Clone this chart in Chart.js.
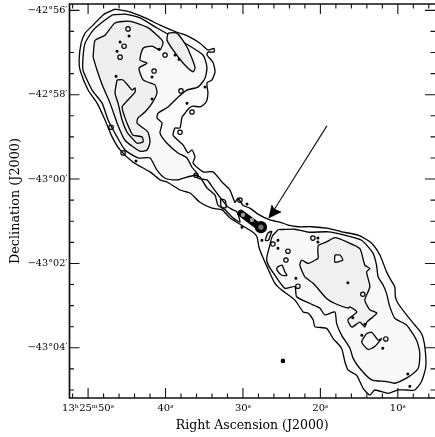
<!DOCTYPE html>
<html>
<head>
<meta charset="utf-8">
<style>
  html, body { margin: 0; padding: 0; background: #fff; }
  #wrap { width: 435px; height: 437px; }
</style>
<script src="https://cdn.jsdelivr.net/npm/chart.js@4/dist/chart.umd.min.js"></script>
</head>
<body>
<div id="wrap"><canvas id="map" width="435" height="437"></canvas></div>
<script>
// x = RA seconds past 13h25m, y = arcmin from Dec -43 00
const outerContour = [[46.52,4.03],[44.97,3.98],[43.55,3.89],[42.26,3.79],[40.71,3.65],[38.52,3.48],[37.10,3.39],[35.55,3.22],[34.52,3.06],[33.74,3.10],[33.74,3.01],[34.52,3.01],[34.65,2.94],[33.87,2.77],[33.61,2.54],[34.00,2.35],[34.65,2.28],[34.52,2.04],[34.77,1.82],[35.55,1.71],[36.45,1.73],[36.97,1.68],[37.48,1.56],[37.87,1.47],[38.13,1.21],[38.77,1.21],[39.03,1.04],[38.39,0.92],[37.74,0.81],[37.10,0.62],[36.58,0.69],[36.19,0.52],[36.45,0.38],[35.16,0.17],[33.87,0.17],[32.71,-0.07],[31.68,-0.26],[31.03,-0.55],[30.65,-0.45],[30.00,-0.62],[29.10,-0.69],[28.06,-0.83],[26.52,-0.97],[25.23,-1.02],[24.16,-1.09],[22.87,-1.13],[21.14,-1.13],[18.99,-1.17],[17.27,-1.25],[15.12,-1.33],[13.39,-1.52],[12.32,-1.80],[11.46,-2.20],[11.03,-2.35],[10.39,-2.56],[10.32,-2.79],[9.96,-2.95],[8.88,-3.22],[7.81,-3.46],[6.94,-3.66],[6.52,-3.97],[6.39,-4.45],[6.94,-4.80],[7.81,-5.00],[8.88,-5.00],[9.96,-5.00],[11.25,-5.08],[12.97,-5.00],[13.61,-5.12],[14.48,-4.96],[15.33,-4.65],[16.41,-4.53],[16.84,-4.33],[17.27,-4.01],[18.35,-3.78],[19.20,-3.54],[20.71,-3.50],[20.93,-3.34],[21.57,-3.18],[22.22,-3.15],[23.29,-2.87],[25.00,-2.63],[25.87,-2.47],[26.52,-2.23],[27.38,-1.88],[27.94,-1.61],[28.19,-1.37],[28.71,-1.26],[31.29,-0.97],[31.68,-0.92],[32.71,-0.73],[34.00,-0.69],[35.55,-0.55],[36.84,-0.33],[38.13,-0.26],[39.81,-0.07],[40.71,-0.02],[42.00,0.17],[44.19,0.40],[45.87,0.69],[46.90,1.00],[47.81,1.40],[48.84,1.80],[50.00,2.11],[51.03,2.58],[51.16,2.82],[50.90,3.22],[50.39,3.46],[49.35,3.65],[48.06,3.89]];
const northMiddle = [[46.90,3.89],[45.23,3.91],[43.29,3.82],[41.10,3.58],[39.42,3.41],[37.74,3.25],[35.16,2.94],[34.65,2.65],[34.90,2.39],[35.81,2.18],[37.23,2.11],[38.39,1.94],[39.68,1.71],[40.97,1.56],[41.10,1.45],[40.45,1.33],[40.71,1.09],[39.81,0.85],[38.39,0.62],[37.23,0.50],[36.58,0.28],[35.94,0.14],[35.81,0.02],[34.65,-0.02],[33.87,-0.21],[32.97,-0.43],[31.94,-0.66],[31.29,-0.73],[30.77,-0.78],[30.39,-1.02],[31.29,-0.92],[32.32,-0.73],[33.23,-0.62],[33.61,-0.38],[34.65,-0.21],[35.55,0.05],[36.19,0.09],[37.74,0.02],[38.52,-0.02],[40.06,0.02],[41.10,0.21],[42.00,0.50],[43.55,0.50],[45.23,0.69],[46.26,1.00],[47.42,1.40],[48.19,1.80],[49.48,2.11],[50.65,2.58],[50.65,2.89],[50.39,3.22],[49.35,3.53],[48.19,3.72]];
const northInner = [[49.35,2.89],[49.10,3.29],[47.81,3.41],[46.52,3.70],[44.58,3.74],[42.39,3.60],[41.10,3.41],[40.32,3.25],[40.71,3.06],[41.74,3.15],[42.90,3.10],[43.29,2.82],[42.39,2.75],[43.42,2.63],[42.90,2.35],[42.00,2.28],[41.35,2.23],[41.10,2.04],[41.74,1.80],[42.65,1.59],[43.55,1.45],[43.68,1.33],[43.03,1.23],[42.26,1.11],[42.00,0.88],[42.39,0.69],[43.29,0.66],[45.23,0.92],[46.26,1.33],[47.16,1.80],[48.06,2.18],[48.84,2.58]];
const northRidge = [[39.68,3.46],[38.52,3.46],[37.23,3.13],[36.19,2.65],[36.45,2.54],[37.74,2.75],[39.03,3.06],[39.81,3.29]];
const northCore = [[46.26,2.35],[45.48,2.35],[44.32,2.11],[43.94,2.16],[43.94,2.06],[45.23,1.80],[45.61,1.71],[45.23,1.45],[44.58,1.16],[44.19,1.04],[43.03,1.00],[42.90,0.88],[43.68,0.85],[44.32,0.97],[44.97,1.11],[45.61,1.40],[46.13,1.80],[46.52,2.04]];
const southMiddle = [[25.45,-1.20],[23.29,-1.19],[21.57,-1.26],[18.99,-1.25],[16.84,-1.33],[14.68,-1.45],[13.19,-1.76],[12.75,-2.04],[12.54,-2.32],[11.90,-2.51],[11.46,-2.71],[11.25,-2.87],[11.03,-3.03],[10.39,-3.30],[8.88,-3.46],[7.58,-3.82],[7.16,-4.13],[7.38,-4.49],[8.88,-4.72],[10.39,-4.84],[11.46,-4.80],[13.39,-4.76],[14.90,-4.49],[15.77,-4.25],[16.19,-4.01],[17.27,-3.70],[17.91,-3.42],[18.13,-3.15],[19.42,-3.22],[20.06,-3.06],[21.35,-2.95],[23.07,-2.79],[23.29,-2.55],[24.58,-2.59],[25.87,-2.28],[26.73,-2.04],[26.94,-1.88],[26.52,-1.56],[26.20,-1.35]];
const southInner = [[20.28,-1.88],[20.28,-1.58],[19.20,-1.49],[18.13,-1.39],[16.58,-1.49],[14.90,-1.65],[14.26,-2.04],[13.61,-2.12],[14.04,-2.20],[13.61,-2.55],[14.26,-2.87],[13.61,-3.10],[12.71,-3.18],[14.00,-3.39],[14.26,-3.51],[14.90,-3.39],[15.94,-3.51],[16.45,-3.34],[15.29,-3.15],[16.19,-3.03],[16.41,-3.06],[18.13,-2.95],[19.20,-2.83],[20.93,-2.47],[22.00,-2.32],[22.65,-2.04],[22.42,-1.92],[21.57,-2.00]];
const southPeak = [[18.13,-1.80],[18.13,-1.97],[17.10,-1.92],[17.48,-1.80]];
const southKnot = [[14.04,-3.66],[13.39,-3.63],[12.97,-3.72],[12.54,-3.82],[12.10,-3.78],[12.97,-3.97],[13.84,-4.04],[14.68,-3.86]];
const southLump = [[25.61,-2.09],[24.97,-2.04],[24.58,-2.20],[24.32,-2.28],[24.97,-2.28],[25.61,-2.16]];
const sliver = [[26.26,-1.23],[26.77,-1.28],[27.10,-1.45],[26.71,-1.45]];
const jetOval = [[32.90,-0.47],[32.30,-0.50],[32.20,-0.68],[32.80,-0.66]];
const rings = [[44.84,3.56],[45.35,3.15],[45.87,2.89],[41.48,2.56],[40.06,2.94],[38.00,2.09],[36.58,1.59],[38.13,1.11],[47.03,1.23],[45.48,0.62],[36.06,0.09],[30.39,-0.50],[26.13,-1.54],[24.19,-1.71],[24.45,-1.92],[22.90,-2.54],[20.97,-1.40],[11.55,-3.79],[14.52,-2.73]];
const dots = [[44.71,3.39],[45.87,3.25],[46.26,3.03],[46.39,2.44],[41.74,2.42],[41.74,1.90],[40.84,3.08],[38.77,2.94],[38.26,2.84],[34.90,2.18],[37.23,1.80],[43.81,0.43],[29.48,-0.59],[30.13,-1.14],[25.48,-1.45],[25.48,-1.64],[23.16,-2.35],[20.32,-1.40],[20.32,-1.49],[16.45,-2.46],[11.94,-4.01],[14.65,-3.70],[8.71,-4.62],[8.45,-4.91],[15.81,-3.29],[14.26,-3.44],[27.55,-1.45]];
const isolatedSource = [[24.84,-4.31]];
const jetLine = [[30.26,-0.81],[28.06,-1.11]];
const jetKnots = [[30.00,-0.85],[28.84,-0.97]];
const radioCore = [[27.68,-1.14]];
const arrowShaft = [[19.16,1.26],[26.26,-0.81]];
const arrowHead = [[26.65,-0.92],[26.26,-0.62],[26.00,-0.71],[25.10,-0.78]];

const raTicks = {50: "13ʰ25ᵐ50ˢ", 40: "40ˢ", 30: "30ˢ", 20: "20ˢ", 10: "10ˢ"};
const decTicks = {4: "−42°56′", 2: "−42°58′", 0: "−43°00′", "-2": "−43°02′", "-4": "−43°04′"};

const FONT = "'DejaVu Serif', 'Liberation Serif', serif";

function pts(list, close) {
  const out = list.map(p => ({x: p[0], y: p[1]}));
  if (close) out.push({x: list[0][0], y: list[0][1]});
  return out;
}

function contour(list, fillColor, width) {
  return {
    data: pts(list, true),
    showLine: true,
    borderColor: "#000",
    borderWidth: width || 1.3,
    tension: 0.2,
    pointRadius: 0,
    fill: fillColor ? "shape" : false,
    backgroundColor: fillColor || "transparent"
  };
}

function marks(list, radius, bg, border) {
  return {
    data: pts(list),
    showLine: false,
    pointRadius: radius,
    pointBackgroundColor: bg,
    pointBorderColor: border,
    pointBorderWidth: 1.2
  };
}

// chart.js pads the area for tick labels, the frame has to reach the page edge
function noPadding(scale) {
  scale.paddingTop = 0;
  scale.paddingBottom = 0;
  scale.paddingLeft = 0;
  scale.paddingRight = 0;
}

// ticks point inwards on all four sides, longer on the labelled ones
const frameTicks = {
  id: "frameTicks",
  afterDatasetsDraw(chart) {
    const {ctx, chartArea: a, scales} = chart;
    ctx.save();
    ctx.strokeStyle = "#111";
    ctx.lineWidth = 1.1;
    ctx.beginPath();
    scales.x.ticks.forEach(t => {
      const px = scales.x.getPixelForValue(t.value);
      const len = t.value % 10 === 0 ? 10 : 4.5;
      ctx.moveTo(px, a.bottom); ctx.lineTo(px, a.bottom - len);
      ctx.moveTo(px, a.top); ctx.lineTo(px, a.top + len);
    });
    scales.y.ticks.forEach(t => {
      const py = scales.y.getPixelForValue(t.value);
      const len = t.value % 2 === 0 ? 10 : 4.5;
      ctx.moveTo(a.left, py); ctx.lineTo(a.left + len, py);
      ctx.moveTo(a.right, py); ctx.lineTo(a.right - len, py);
    });
    ctx.stroke();
    ctx.lineWidth = 1.7;
    ctx.beginPath();
    ctx.moveTo(a.right, a.top); ctx.lineTo(a.left, a.top);
    ctx.lineTo(a.left, a.bottom); ctx.lineTo(a.right, a.bottom);
    ctx.stroke();
    ctx.restore();
  }
};

new Chart(document.getElementById("map"), {
  type: "scatter",
  data: {
    datasets: [
      marks(radioCore, 2, "#777", "#777"),
      marks(jetKnots, 1.6, "#999", "#999"),
      marks(radioCore, 5.5, "#000", "#000"),
      {data: pts(jetLine), showLine: true, borderColor: "#000", borderWidth: 7, borderCapStyle: "round", pointRadius: 0},
      {data: pts(arrowHead, true), showLine: true, borderColor: "#000", borderWidth: 0.8, pointRadius: 0, fill: "shape", backgroundColor: "#000"},
      {data: pts(arrowShaft), showLine: true, borderColor: "#111", borderWidth: 1.1, pointRadius: 0},
      marks(isolatedSource, 1.7, "#000", "#000"),
      marks(dots, 0.9, "#000", "#000"),
      marks(rings, 2.2, "rgba(0,0,0,0)", "#000"),
      contour(sliver),
      contour(jetOval),
      contour(southLump),
      contour(southKnot, "#f7f7f7"),
      contour(southPeak, "#fafafa"),
      contour(northCore),
      contour(northRidge, "#f0f0f0"),
      contour(northInner, "#efefef"),
      contour(southInner, "#f0f0f0"),
      contour(northMiddle, "#f8f8f8"),
      contour(southMiddle, "#f8f8f8"),
      contour(outerContour, "#fcfcfc")
    ]
  },
  options: {
    responsive: false,
    animation: false,
    layout: {autoPadding: false, padding: {top: 4, right: 0, left: 0, bottom: 0}},
    plugins: {legend: {display: false}, tooltip: {enabled: false}},
    scales: {
      x: {
        type: "linear",
        reverse: true,
        min: 5.2,
        max: 52.4,
        afterFit(scale) { scale.height = 39; noPadding(scale); },
        grid: {display: false, drawTicks: false},
        border: {display: false},
        ticks: {
          stepSize: 2,
          autoSkip: false,
          maxRotation: 0,
          includeBounds: false,
          padding: 4,
          color: "#000",
          font: {family: FONT, size: 10},
          callback: v => raTicks[v] || ""
        },
        title: {display: true, text: "Right Ascension (J2000)", color: "#000", font: {family: FONT, size: 12.5}, padding: {top: 2, bottom: 4}}
      },
      y: {
        min: -5.19,
        max: 4.15,
        afterFit(scale) { scale.width = 69.5; noPadding(scale); },
        grid: {display: false, drawTicks: false},
        border: {display: false},
        ticks: {
          stepSize: 0.5,
          autoSkip: false,
          includeBounds: false,
          padding: 2,
          color: "#000",
          font: {family: FONT, size: 9.7},
          callback: v => decTicks[v] || ""
        },
        title: {display: true, text: "Declination (J2000)", color: "#000", font: {family: FONT, size: 12.8}, padding: {top: 8, bottom: 2}}
      }
    }
  },
  plugins: [frameTicks]
});
</script>
</body>
</html>
